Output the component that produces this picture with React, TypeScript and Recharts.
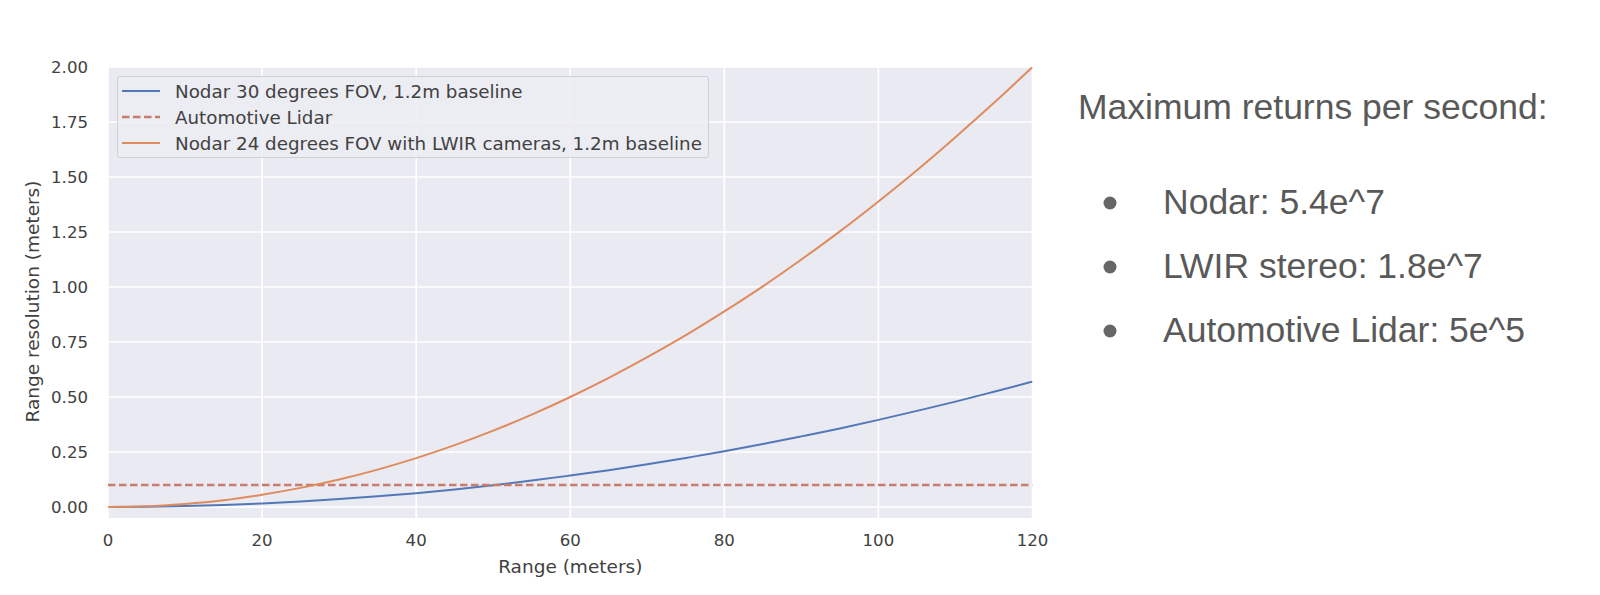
import React from 'react'
import { LineChart, Line, XAxis, YAxis, CartesianGrid, Legend, Label } from 'recharts'

// range in meters (x axis)
const rangeMeters = [0, 5, 10, 15, 20, 25, 30, 35, 40, 45, 50, 55, 60, 65, 70, 75, 80, 85, 90, 95, 100, 105, 110, 115, 120]

// range resolution (meters)
const nodar30 = [0, 0.001, 0.004, 0.009, 0.016, 0.025, 0.036, 0.049, 0.063, 0.08, 0.099, 0.12, 0.143, 0.167, 0.194, 0.223, 0.253, 0.286, 0.321, 0.357, 0.396, 0.437, 0.479, 0.524, 0.57]
const automotiveLidar = [0.1, 0.1, 0.1, 0.1, 0.1, 0.1, 0.1, 0.1, 0.1, 0.1, 0.1, 0.1, 0.1, 0.1, 0.1, 0.1, 0.1, 0.1, 0.1, 0.1, 0.1, 0.1, 0.1, 0.1, 0.1]
const nodar24Lwir = [0, 0.003, 0.014, 0.031, 0.056, 0.087, 0.125, 0.17, 0.222, 0.281, 0.347, 0.42, 0.5, 0.587, 0.681, 0.781, 0.889, 1.003, 1.125, 1.253, 1.389, 1.531, 1.681, 1.837, 2.0]

const xTicks = [0, 20, 40, 60, 80, 100, 120]
const yTicks = [0, 0.25, 0.5, 0.75, 1.0, 1.25, 1.5, 1.75, 2.0]

const seriesNames = [
  'Nodar 30 degrees FOV, 1.2m baseline',
  'Automotive Lidar',
  'Nodar 24 degrees FOV with LWIR cameras, 1.2m baseline',
]

const returnLabels = ['Nodar', 'LWIR stereo', 'Automotive Lidar']
const returnValues = ['5.4e^7', '1.8e^7', '5e^5']

const data = rangeMeters.map((r, i) => ({
  range: r,
  nodar30: nodar30[i],
  lidar: automotiveLidar[i],
  nodar24: nodar24Lwir[i],
}))

const BLUE = '#5278b8'
const ORANGE = '#df8b5d'
const RED = '#c97b6c'
const TICK = '#414141'
const FONT = '"DejaVu Sans", sans-serif'
const DASH = '7.5 3.5'

function LegendBox() {
  const rows = [
    { name: seriesNames[0], color: BLUE, dash: undefined as string | undefined, w: 2 },
    { name: seriesNames[1], color: RED, dash: DASH, w: 2.6 },
    { name: seriesNames[2], color: ORANGE, dash: undefined, w: 2 },
  ]
  return (
    <div
      style={{
        boxSizing: 'border-box',
        width: 592,
        height: 82,
        padding: '1px 0 0 4px',
        background: 'rgba(236,236,243,0.85)',
        border: '1px solid #cfcfd4',
        borderRadius: 3,
        fontFamily: FONT,
        fontSize: 18.3,
        color: TICK,
      }}
    >
      {rows.map((r) => (
        <div key={r.name} style={{ display: 'flex', alignItems: 'center', height: 26, whiteSpace: 'nowrap' }}>
          <svg width={38} height={10} style={{ marginRight: 15, flex: 'none' }}>
            <line x1={0} y1={5} x2={38} y2={5} stroke={r.color} strokeWidth={r.w} strokeDasharray={r.dash} />
          </svg>
          <span>{r.name}</span>
        </div>
      ))}
    </div>
  )
}

function SidePanel() {
  const baselines = [206, 270, 334]
  return (
    <svg
      width={524}
      height={400}
      style={{ position: 'absolute', left: 1060, top: 0 }}
      fontFamily='"Liberation Sans", Arial, sans-serif'
      fontSize={35.5}
      fill="#595959"
    >
      <text x={10} y={111}>Maximum returns per second:</text>
      {returnLabels.map((label, i) => (
        <g key={label}>
          <circle cx={42} cy={baselines[i] - 11} r={6.5} fill="#666666" />
          <text x={95} y={baselines[i]}>{`${label}: ${returnValues[i]}`}</text>
        </g>
      ))}
    </svg>
  )
}

function YTitle(props: any) {
  const vb = props.viewBox || { x: 0, y: 0, width: 0, height: 0 }
  const cx = vb.x + 24
  const cy = vb.y + vb.height / 2 + 9
  return (
    <text
      x={cx}
      y={cy}
      transform={`rotate(-90, ${cx}, ${cy})`}
      textAnchor="middle"
      dominantBaseline="central"
      fill={TICK}
      fontSize={18.5}
      fontFamily={FONT}
    >
      Range resolution (meters)
    </text>
  )
}

export default function App() {
  return (
    <div style={{ position: 'relative', width: 1584, height: 579, background: '#ffffff' }}>
      <LineChart
        width={1060}
        height={579}
        data={data}
        margin={{ top: 59, right: 35.5, bottom: 9, left: 0 }}
      >
        <CartesianGrid
          fill="#eaeaf2"
          stroke="#ffffff"
          strokeWidth={1.6}
          horizontalValues={yTicks}
          verticalValues={xTicks}
        />
        <XAxis
          dataKey="range"
          type="number"
          domain={[0, 120]}
          ticks={xTicks}
          axisLine={false}
          tickLine={false}
          tickMargin={10.5}
          height={60}
          tick={{ fill: TICK, fontSize: 16.6, fontFamily: FONT }}
          allowDataOverflow
        >
          <Label
            value="Range (meters)"
            position="insideBottom"
            offset={5}
            fill={TICK}
            fontSize={18.5}
            fontFamily={FONT}
          />
        </XAxis>
        <YAxis
          type="number"
          domain={[-0.05, 2.0]}
          ticks={yTicks}
          axisLine={false}
          tickLine={false}
          tickMargin={14}
          width={100}
          allowDataOverflow
          tickFormatter={(v: number) => v.toFixed(2)}
          tick={{ fill: TICK, fontSize: 16.6, fontFamily: FONT }}
        >
          <Label position="insideLeft" content={YTitle} />
        </YAxis>
        <Legend
          layout="vertical"
          align="center"
          verticalAlign="middle"
          wrapperStyle={{ left: 109, top: 68, width: 'auto' }}
          content={() => <LegendBox />}
        />
        <Line
          type="monotone"
          dataKey="nodar30"
          name={seriesNames[0]}
          stroke={BLUE}
          strokeWidth={2}
          dot={false}
          isAnimationActive={false}
        />
        <Line
          type="linear"
          dataKey="lidar"
          name={seriesNames[1]}
          stroke={RED}
          strokeWidth={2.6}
          strokeDasharray={DASH}
          dot={false}
          isAnimationActive={false}
        />
        <Line
          type="monotone"
          dataKey="nodar24"
          name={seriesNames[2]}
          stroke={ORANGE}
          strokeWidth={2}
          dot={false}
          isAnimationActive={false}
        />
      </LineChart>
      <SidePanel />
    </div>
  )
}
